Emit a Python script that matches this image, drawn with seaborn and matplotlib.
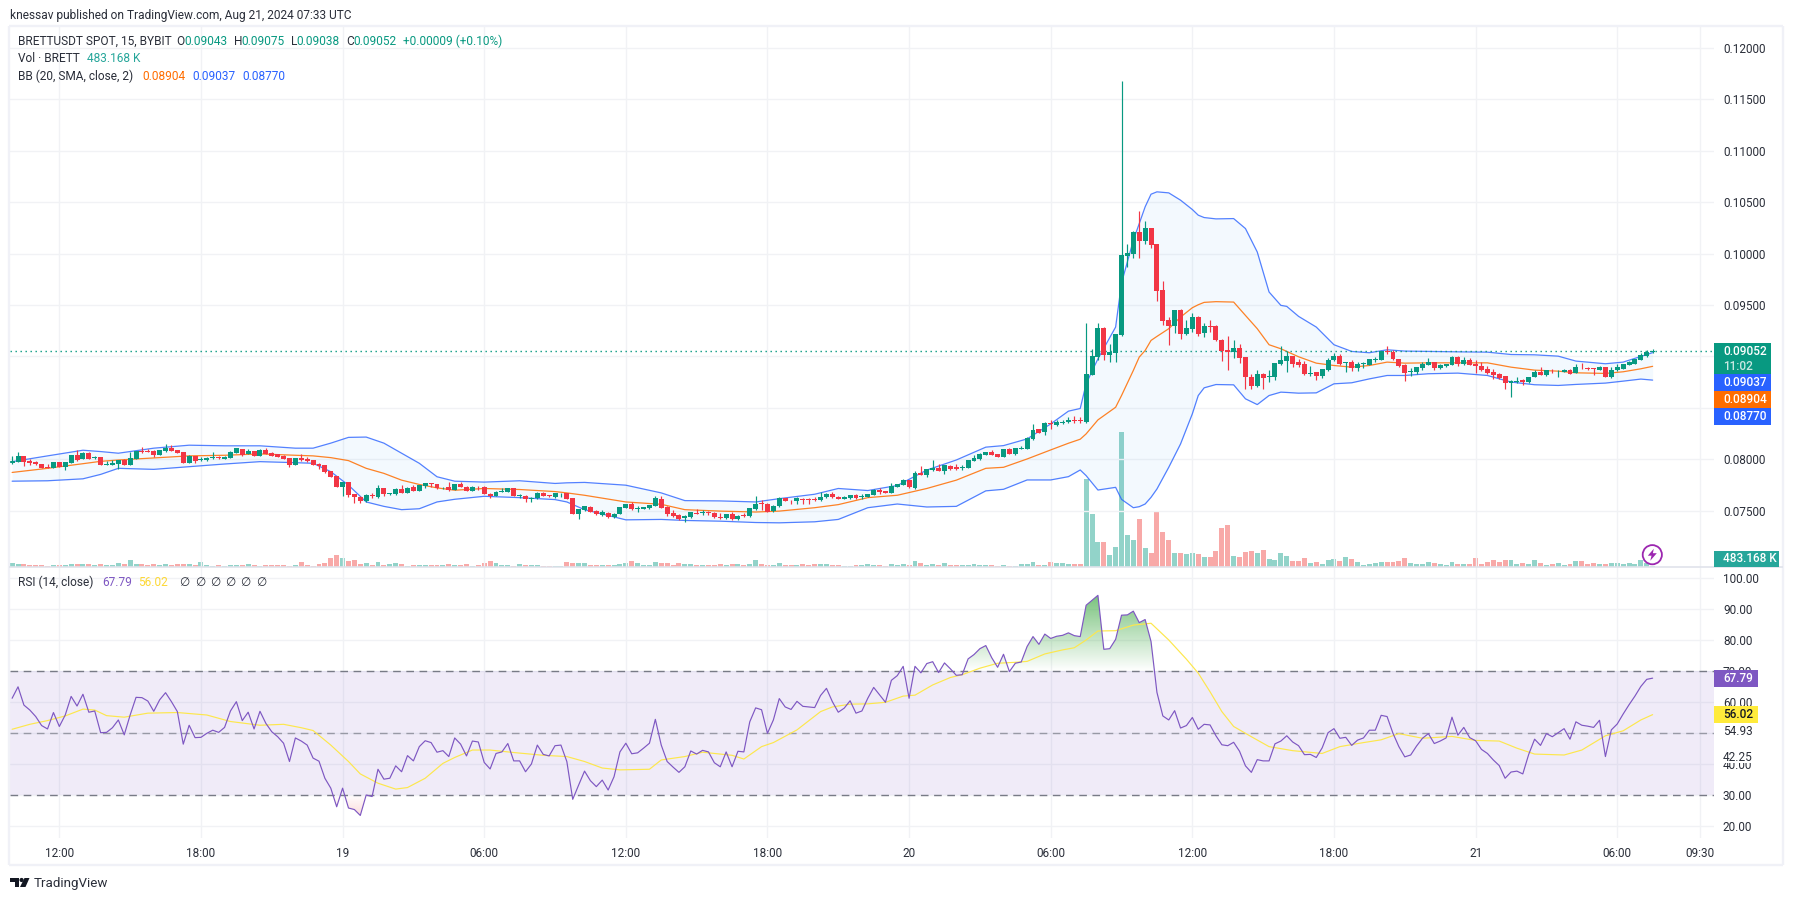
import numpy as np
import pandas as pd
import matplotlib
matplotlib.use("Agg")
import matplotlib.pyplot as plt
from matplotlib.patches import Rectangle, Polygon, Circle
from matplotlib.path import Path
import seaborn as sns

PRICE_UNIT = 1e-5

opens = [
 7961,7977,8033,7987,7974,7954,7922,7918,7971,7925,
 7967,8039,8003,8062,8016,8023,7948,7948,7954,7993,
 7944,8007,8082,8082,8078,8043,8078,8111,8092,8072,
 7964,8033,7997,7993,8013,8023,8007,8016,8065,8098,
 8056,8082,8036,8092,8065,8052,8036,8013,7948,8013,
 8003,7993,7958,7944,7886,7837,7729,7778,7660,7637,
 7591,7653,7630,7716,7663,7663,7709,7673,7732,7693,
 7738,7765,7755,7716,7729,7702,7758,7735,7693,7735,
 7735,7666,7643,7683,7683,7716,7640,7647,7617,7621,
 7676,7650,7630,7660,7673,7621,7464,7503,7539,7500,
 7457,7480,7434,7467,7526,7562,7519,7516,7523,7545,
 7617,7539,7474,7454,7428,7434,7480,7477,7487,7480,
 7441,7428,7464,7415,7457,7444,7513,7575,7568,7493,
 7542,7621,7598,7591,7617,7611,7614,7601,7630,7666,
 7637,7614,7621,7650,7634,7634,7653,7699,7689,7673,
 7732,7751,7794,7722,7863,7846,7895,7915,7886,7938,
 7925,7915,7918,7987,8000,8046,8072,8052,8023,8101,
 8049,8101,8101,8199,8291,8262,8356,8331,8357,8360,
 8383,8383,8364,8818,8994,9273,9013,9032,9205,9977,
 9997,10208,10120,10247,10091,9643,9351,9296,9448,9214,
 9266,9380,9224,9292,9292,9162,9058,9039,9078,8990,
 8805,8708,8828,8799,8799,8922,8955,9000,8942,8922,
 8825,8844,8806,8864,8961,9000,8938,8942,8887,8925,
 8919,8968,8964,9049,9039,8977,8913,8848,8844,8883,
 8916,8942,8883,8906,8916,8997,8922,8961,8922,8909,
 8874,8851,8825,8806,8741,8754,8767,8747,8799,8848,
 8815,8861,8854,8848,8870,8838,8890,8883,8883,8870,
 8893,8796,8864,8880,8916,8925,8964,9000,9043]
closes = [
 7980,8029,7977,7967,7954,7918,7915,7971,7925,7971,
 8043,7997,8062,8003,8023,7944,7958,7964,7993,7948,
 8013,8082,8075,8075,8046,8088,8111,8082,8062,7964,
 8036,7987,8007,8016,8023,8013,8026,8075,8105,8046,
 8085,8036,8095,8056,8036,8026,8003,7948,8013,7993,
 7987,7944,7935,7876,7830,7732,7778,7653,7630,7591,
 7650,7647,7719,7660,7670,7712,7673,7725,7693,7745,
 7765,7755,7716,7725,7699,7755,7732,7693,7735,7729,
 7663,7640,7683,7689,7716,7647,7653,7611,7627,7676,
 7643,7640,7670,7666,7617,7467,7513,7542,7490,7464,
 7483,7434,7470,7532,7562,7513,7526,7532,7555,7621,
 7529,7464,7444,7421,7444,7483,7467,7487,7477,7434,
 7428,7464,7415,7451,7451,7523,7568,7568,7487,7549,
 7621,7595,7591,7621,7608,7604,7608,7637,7666,7630,
 7614,7630,7650,7621,7640,7660,7706,7680,7673,7738,
 7758,7797,7729,7863,7846,7902,7912,7889,7944,7902,
 7905,7922,7993,8016,8052,8072,8046,8026,8098,8056,
 8108,8111,8209,8288,8255,8356,8340,8367,8367,8386,
 8377,8377,8825,9000,9273,9013,9045,9214,9984,10003,
 10208,10120,10247,10081,9636,9344,9296,9448,9214,9273,
 9380,9218,9292,9286,9156,9049,9042,9078,8984,8799,
 8708,8825,8786,8808,8935,8961,9000,8929,8913,8832,
 8841,8809,8874,8968,9003,8922,8945,8887,8922,8932,
 8971,8974,9049,9042,8971,8903,8835,8857,8893,8925,
 8942,8883,8913,8922,8997,8922,8961,8916,8909,8864,
 8838,8815,8793,8738,8763,8763,8751,8802,8844,8819,
 8864,8854,8861,8870,8832,8893,8883,8874,8877,8893,
 8799,8870,8893,8922,8948,8971,9013,9042,9052]
highs = [
 8033,8069,8036,8000,7980,7958,7951,7974,7974,7974,
 8046,8092,8072,8066,8033,8026,7984,7990,7997,8007,
 8072,8085,8118,8098,8095,8092,8150,8141,8095,8075,
 8039,8036,8020,8020,8069,8036,8029,8078,8108,8101,
 8098,8085,8098,8108,8069,8056,8039,8016,8016,8049,
 8020,7997,7964,7948,7889,7840,7781,7781,7663,7640,
 7666,7676,7745,7719,7676,7719,7745,7729,7745,7748,
 7771,7768,7758,7729,7778,7758,7778,7738,7738,7738,
 7738,7670,7696,7719,7719,7719,7666,7650,7630,7679,
 7679,7653,7673,7673,7676,7624,7516,7549,7542,7503,
 7510,7483,7473,7536,7565,7585,7549,7536,7559,7640,
 7647,7542,7510,7467,7460,7487,7519,7503,7500,7483,
 7477,7467,7487,7454,7480,7526,7647,7601,7572,7552,
 7637,7624,7601,7634,7621,7627,7634,7683,7670,7686,
 7647,7640,7653,7666,7660,7663,7709,7716,7693,7765,
 7761,7810,7797,7889,7935,7905,7993,7954,7948,7944,
 7954,7944,7997,8043,8059,8075,8095,8056,8101,8105,
 8111,8131,8212,8347,8294,8359,8386,8386,8380,8416,
 8422,8409,9321,9075,9321,9286,9117,9218,11679,10091,
 10224,10412,10315,10250,10094,9731,9386,9452,9464,9351,
 9419,9396,9321,9351,9302,9166,9195,9162,9117,8994,
 8831,8870,8838,8873,8938,9097,9049,9003,8971,8958,
 8903,8848,8877,8987,9029,9023,8948,8961,8948,8942,
 8974,8994,9052,9097,9058,8980,8929,8887,8896,8942,
 8987,8945,8925,8929,9000,9000,8994,8987,8961,8948,
 8909,8880,8838,8809,8767,8796,8783,8805,8864,8896,
 8867,8877,8864,8874,8874,8922,8938,8896,8887,8909,
 8896,8893,8922,8925,8951,8974,9036,9058,9075]
lows = [
 7954,7977,7938,7944,7948,7912,7912,7915,7922,7895,
 7964,7987,8000,8000,8007,7941,7944,7944,7905,7941,
 7944,8003,8065,8069,8023,8039,8075,8078,8059,7961,
 7961,7964,7980,7987,8000,8000,8003,8013,8062,8036,
 8052,8033,8033,8052,8033,8023,8000,7928,7944,7987,
 7977,7941,7905,7869,7827,7729,7640,7630,7575,7578,
 7588,7624,7627,7647,7650,7653,7670,7670,7689,7689,
 7719,7729,7712,7712,7696,7699,7729,7689,7689,7706,
 7660,7624,7640,7680,7680,7643,7627,7585,7585,7617,
 7640,7634,7627,7634,7614,7464,7418,7500,7487,7461,
 7444,7431,7431,7464,7523,7503,7487,7513,7519,7542,
 7523,7444,7441,7411,7388,7431,7464,7457,7460,7431,
 7424,7424,7411,7411,7438,7441,7510,7506,7483,7490,
 7539,7591,7565,7568,7568,7568,7591,7598,7627,7627,
 7611,7611,7618,7618,7614,7630,7650,7663,7670,7670,
 7729,7748,7719,7712,7843,7830,7889,7886,7859,7899,
 7895,7895,7915,7984,7997,8043,8043,8023,8020,8052,
 8046,8098,8098,8190,8252,8232,8298,8328,8341,8357,
 8351,8351,8354,8815,8961,8961,8945,8945,9198,9870,
 9958,9958,10091,10055,9539,9302,9107,9227,9169,9208,
 9237,9201,9188,9237,9149,8951,8864,8984,8935,8679,
 8682,8705,8688,8747,8773,8919,8848,8896,8893,8815,
 8806,8767,8789,8861,8958,8919,8848,8854,8854,8887,
 8916,8948,8961,9026,8961,8900,8757,8809,8828,8864,
 8913,8864,8874,8900,8913,8906,8919,8913,8835,8861,
 8832,8780,8783,8679,8601,8738,8721,8738,8796,8815,
 8812,8838,8799,8845,8828,8835,8880,8864,8819,8867,
 8796,8793,8861,8877,8913,8922,8961,8997,9038]
volumes_k = [
 1440,1200,1200,840,840,840,480,840,600,840,
 1080,1200,1200,1200,720,1200,720,720,1440,1080,
 2520,1200,960,720,1080,720,1200,720,960,1080,
 1080,720,1800,720,360,600,240,720,720,720,
 1080,720,360,600,720,720,720,480,600,1800,
 720,480,1200,1440,3120,4320,3360,2160,2400,960,
 1440,840,1800,840,1200,1440,1080,360,720,720,
 720,720,720,720,1080,720,720,1080,360,720,
 1440,2160,1440,840,840,360,1080,720,720,720,
 480,360,360,360,1800,1560,1560,1440,840,840,
 840,840,840,1080,1440,2160,1440,840,840,1800,
 1440,1440,840,1440,1200,1200,840,840,840,840,
 1080,840,1200,1080,840,1200,2520,1200,840,840,
 1440,840,840,840,1080,840,1080,1080,1080,840,
 840,360,360,840,840,1080,840,840,360,1080,
 840,1080,840,2160,1440,840,1080,840,1440,840,
 840,840,840,1080,840,840,840,360,720,360,
 360,1080,1080,1800,720,720,1800,1440,1440,1080,
 1080,1080,31680,19080,9000,9000,4320,7200,48600,11520,
 9720,17280,6840,5040,20160,12600,9720,5040,5040,4680,
 5040,4680,3600,3600,5760,14040,15120,3960,3600,5400,
 5760,5040,6120,2880,2520,5040,3960,2160,2160,3240,
 1440,1800,1080,2520,2880,2160,3600,2880,1800,720,
 1080,1440,1800,1800,1800,2160,3240,1440,1080,1080,
 1800,1440,1080,720,1800,1080,1080,1080,3240,1080,
 1800,2520,1800,2520,2520,1080,1440,1080,2520,1440,
 720,1080,1440,720,1080,2160,2160,1080,1440,1080,
 1080,1440,1440,1080,1440,1080,2520,1440,483]

# Bollinger band readings, at selected bars
bb_bars = [0,6,12,15,18,24,30,36,42,48,51,54,57,60,63,66,69,72,75,80,86,92,94,97,
           104,110,114,120,126,130,136,140,145,150,155,160,165,168,172,176,179,181,182,184,
           187,188,190,191,192,193,194,196,198,200,201,202,204,207,209,211,213,215,216,218,
           221,224,227,230,233,236,240,245,250,254,258,262,265,270,273,276,278]
bb_upper = [7977,8033,8088,8075,8059,8108,8137,8131,8131,8108,8108,8157,8213,8216,8157,8059,7961,7830,7787,7778,7791,7765,7771,7775,
            7748,7673,7598,7595,7585,7617,7660,7716,7696,7745,7895,7993,8118,8133,8198,8344,8468,8494,8734,8977,
            9286,9714,10130,10292,10455,10578,10601,10591,10520,10429,10374,10351,10338,10341,10244,10016,9627,9497,9487,9390,
            9286,9114,9049,9036,9065,9052,9049,9045,9042,9019,9016,9003,8955,8929,8945,9000,9037]
bb_basis = [7872,7912,7957,7980,7993,8013,8033,8039,8052,8039,8033,8016,7987,7912,7863,7797,7755,7722,7699,7716,7706,7686,7673,7650,
            7585,7562,7510,7496,7487,7496,7529,7559,7627,7650,7716,7797,7912,7922,8003,8091,8156,8195,8247,8383,
            8506,8620,8864,8994,9058,9156,9195,9270,9383,9474,9503,9526,9533,9529,9399,9270,9114,9075,9049,8997,
            8935,8912,8896,8912,8945,8935,8938,8938,8938,8896,8867,8857,8841,8835,8851,8880,8904]
bb_lower = [7787,7791,7810,7853,7912,7902,7928,7954,7977,7967,7961,7879,7748,7585,7542,7510,7519,7585,7611,7640,7627,7608,7585,7510,
            7411,7415,7405,7398,7385,7382,7392,7415,7529,7565,7536,7542,7693,7708,7799,7799,7831,7896,7841,7701,
            7727,7610,7529,7539,7565,7630,7711,7922,8149,8442,8620,8695,8727,8724,8588,8532,8620,8653,8650,8643,
            8646,8734,8744,8782,8815,8815,8832,8838,8815,8751,8725,8718,8728,8741,8760,8780,8770]

rsi_values = [
 61.3,65,59.1,57.5,55.4,52.5,51.4,56.7,52.2,55.9,
 61.9,58.8,62.6,56.8,57.2,50.2,50.3,51.8,54.3,49.5,
 55.9,61.6,61.5,60.4,57.1,60.8,63.1,60.2,57,46.5,
 52.6,48.6,48.7,50,51,50.3,51.9,57.2,60.2,54.1,
 56.8,51.4,57.1,53.2,50.5,48.9,46.8,40.9,48.5,47.5,
 46.2,42,41,35.5,32.3,26.3,32.3,25.9,25.4,23.5,
 30.1,29.6,38.4,35.2,35.5,39.5,37.6,42.8,41.1,45.7,
 47.6,47,43.9,44.4,42.5,48.5,46.5,42.7,47.5,47.2,
 40.6,38.5,43.5,44,46.7,41.1,41.1,37.6,40.1,46.2,
 43.2,42.7,46,46.2,40.9,28.7,33.3,37.8,34.7,32.8,
 34.9,31.7,36,44,46.8,43.4,43.7,45.2,46.8,54.5,
 46.2,40.9,39.1,37.4,39.2,44.3,43.3,44.5,44,40.5,
 39.2,44,39.2,44.2,44,53.7,58.2,57.6,50,54.3,
 61.2,58.5,57.7,60.3,58.7,58.5,58.3,62.2,64.5,60.2,
 56.8,58.1,60.5,56.5,57.2,61.3,64.8,62.4,60,67.1,
 68.6,71.6,61.3,71.6,69.5,72.5,73.1,69.6,72.7,70.8,
 68.7,68.9,74,75.4,77.3,78.3,74.4,71.3,75.5,69.9,
 72.6,73,78,81.2,78.7,82,80.6,81.3,81.6,82.4,
 81.5,81.2,91.3,92.9,94.5,77.1,77.3,80.3,88.1,88.2,
 89.4,85.7,86.7,79.6,63.2,55.6,54.3,57.3,51.7,52.5,
 55.1,51.3,52.9,52.7,49.2,46.3,46,47.1,44.2,39.5,
 37.4,41.5,41.1,41.1,46.6,47.5,49.2,47.2,46,43.1,
 43.2,42.2,45.3,50.2,51.5,48.4,48.7,46.1,47.8,48.5,
 51,51,55.8,55.4,50,45.7,42.4,43,45.9,48.4,
 49.9,46.7,47.5,48.5,55.2,49.4,51.9,48.6,47.6,44.8,
 43.5,41.4,39.6,35.5,37.5,37.8,36.9,43.2,48.1,46.1,
 49.9,48.9,50.2,51.5,48.1,53.7,52.6,52.3,51.9,54.2,
 42.5,51.1,53,56.2,59.2,62,65.1,67.4,67.79]

rsi_ma_bars = [0,3,6,9,12,14,16,19,23,28,33,37,42,46,49,51,54,57,59,62,65,67,70,73,75,78,81,85,90,94,97,
               100,103,108,110,114,117,122,124,127,129,133,137,139,142,145,148,151,153,156,159,161,164,167,170,172,175,178,180,182,184,187,190,193,196,199,201,
               203,205,207,210,213,217,222,225,229,232,235,239,244,248,252,255,258,263,266,270,273,276,278]
rsi_ma_values = [51.3,52.9,54.1,55.6,57.8,57.5,55.7,55.2,56.5,56.7,55.9,53.8,52.6,52.9,51.8,50.9,46.2,40.9,36.9,33.9,32,32.5,35.5,40.3,42.2,44.6,44.6,43.8,42.9,42.5,40.9,
                 38.8,38.2,38.4,41.4,42.5,43.9,42.9,41.7,45.7,47,51.1,57,58.5,59.4,59.5,60,62,62.3,65.6,68,68.9,71,72.6,72.9,73.2,75.6,76.9,77.6,80.1,83,83.1,84.9,85.5,80.1,73.9,69.4,
                 63.4,57,52.2,48.9,45.7,44.4,43.5,45.7,47,47.9,49.9,48.4,49,47.7,47.5,45.2,43.3,43,44.6,49.2,50.8,54.3,56.02]

price_ticks = [0.12,0.115,0.11,0.105,0.10,0.095,0.09,0.085,0.08,0.075]
price_tick_labels = ["0.12000","0.11500","0.11000","0.10500","0.10000","0.09500","","","0.08000","0.07500"]
rsi_ticks = [100,90,80,70,60,50,40,30,20]
rsi_tick_labels = ["100.00","90.00","80.00","70.00","60.00","","40.00","30.00","20.00"]
time_bars = [8,32,56,80,104,128,152,176,200,224,248,272,286]
time_labels = ["12:00","18:00","19","06:00","12:00","18:00","20","06:00","12:00","18:00","21","06:00","09:30"]

UP, DOWN = "#089981", "#f23645"
VOL_UP, VOL_DOWN = "#92d3c9", "#f8a9a8"
BLUE, ORANGE = "#2962ff", "#ff6d00"
PURPLE, YELLOW = "#7e57c2", "#fdd835"
GRID, FRAME = "#f1f2f5", "#f0f1f7"
INK = "#2a2e39"

sns.set_theme(style="white")
plt.rcParams["font.family"] = ["Roboto", "DejaVu Sans"]
FS = 8.6
TICK_FS = 8.5

W, H = 1794, 901
fig = plt.figure(figsize=(W/100, H/100), dpi=100, facecolor="white")
def rect(l, t, r, b):
    return [l/W, 1-b/H, (r-l)/W, (b-t)/H]

bars = np.arange(len(closes))
O = np.array(opens)*PRICE_UNIT
C = np.array(closes)*PRICE_UNIT
Hi = np.array(highs)*PRICE_UNIT
Lo = np.array(lows)*PRICE_UNIT
rising = C >= O
xlim = (-0.36, 288.4)

# volume pane (bottom layer)
ax_vol = fig.add_axes(rect(10, 26, 1714, 567), zorder=1)
vol_df = pd.DataFrame({"bar": bars, "vol": volumes_k,
                       "dir": np.where(rising, "up", "down")})
sns.barplot(data=vol_df, x="bar", y="vol", hue="dir", native_scale=True, dodge=False,
            palette={"up": VOL_UP, "down": VOL_DOWN}, saturation=1, width=0.84, gap=0,
            errorbar=None, legend=False, ax=ax_vol, linewidth=0)
ax_vol.set_ylim(0, 194760)
ax_vol.set_xlim(*xlim)
ax_vol.set_xticks(time_bars); ax_vol.set_yticks([])
ax_vol.set_xticklabels([]); ax_vol.set_xlabel(""); ax_vol.set_ylabel("")
ax_vol.tick_params(length=0)
ax_vol.grid(False)
for s in ax_vol.spines.values(): s.set_visible(False)

# price pane
ax = fig.add_axes(rect(10, 26, 1714, 567), zorder=2)
ax.patch.set_alpha(0)
ax.set_xlim(*xlim)
ax.set_ylim(0.12 - 519/10282, 0.12 + 22/10282)
ub = np.array(bb_upper)*PRICE_UNIT
mb = np.array(bb_basis)*PRICE_UNIT
lb = np.array(bb_lower)*PRICE_UNIT
ax.fill_between(bb_bars, ub, lb, color="#2196f3", alpha=0.05, lw=0, zorder=1)
sns.lineplot(x=bb_bars, y=ub, color=BLUE, lw=0.9, alpha=.8, errorbar=None, ax=ax, zorder=2)
sns.lineplot(x=bb_bars, y=lb, color=BLUE, lw=0.9, alpha=.8, errorbar=None, ax=ax, zorder=2)
sns.lineplot(x=bb_bars, y=mb, color=ORANGE, lw=0.9, alpha=.85, errorbar=None, ax=ax, zorder=2)
colors = np.where(rising, UP, DOWN)
ax.vlines(bars, Lo, Hi, colors=colors, lw=0.85, zorder=3)
ax.bar(bars, np.maximum(np.abs(C-O), 2e-5), bottom=np.minimum(O, C), width=0.84,
       color=colors, lw=0, zorder=4)
ax.axhline(closes[-1]*PRICE_UNIT, color=UP, lw=1.0, ls=(0, (1, 2.6)), zorder=3)
ax.set_xticks(time_bars)
ax.set_yticks(price_ticks)
ax.set_yticklabels(price_tick_labels, fontsize=TICK_FS, color=INK)
ax.set_xticklabels([])
ax.yaxis.tick_right()
ax.tick_params(axis="both", length=0, pad=6.4)
ax.grid(True, color=GRID, lw=1.0, zorder=0)
ax.set_axisbelow(True)
ax.set_xlabel(""); ax.set_ylabel("")
for s in ax.spines.values(): s.set_visible(False)

# RSI pane
ar = fig.add_axes(rect(10, 567, 1714, 838), zorder=2)
ar.set_xlim(*xlim)
rsi_low, rsi_high = 100-(838-578.3)/3.1, 100+(578.3-567)/3.1
rsi = np.array(rsi_values)
ar.axhspan(30, 70, color=PURPLE, alpha=0.115, lw=0, zorder=1)

def gradient(level, peak, rgb, strength, mask):
    poly = ar.fill_between(bars, rsi, level, where=mask, interpolate=True,
                           facecolor="none", edgecolor="none")
    path = Path.make_compound_path(*poly.get_paths())
    ramp = np.zeros((256, 1, 4))
    ramp[..., :3] = rgb
    ramp[:, 0, 3] = np.linspace(strength, 0, 256)
    im = ar.imshow(ramp, extent=(xlim[0], xlim[1], min(level, peak), max(level, peak)),
                   origin="upper" if peak > level else "lower",
                   aspect="auto", zorder=2, interpolation="bilinear")
    im.set_clip_path(path, transform=ar.transData)

gradient(70, 94.5, (0.298, 0.686, 0.314), 0.75, rsi > 70)
gradient(30, 23.5, (0.937, 0.325, 0.314), 0.2, rsi < 30)

for lvl, al in ((70, 1), (50, .7), (30, 1)):
    ar.axhline(lvl, color="#787b86", lw=1.0, ls=(0, (5.5, 4)), alpha=al, zorder=3)
sns.lineplot(x=rsi_ma_bars, y=rsi_ma_values, color="#fde74c", lw=0.85, errorbar=None, ax=ar, zorder=4)
sns.lineplot(x=bars, y=rsi_values, color=PURPLE, lw=0.85, errorbar=None, ax=ar, zorder=5)
ar.set_ylim(rsi_low, rsi_high)
ar.set_xlim(*xlim)
ar.set_yticks(rsi_ticks)
ar.set_yticklabels(rsi_tick_labels, fontsize=TICK_FS, color=INK)
ar.yaxis.tick_right()
ar.set_xticks(time_bars)
ar.set_xticklabels(time_labels, fontsize=TICK_FS, color=INK)
ar.tick_params(axis="y", length=0, pad=6.4)
ar.tick_params(axis="x", length=0, pad=6.5)
ar.grid(True, color=GRID, lw=1.0, zorder=0)
ar.set_axisbelow(True)
ar.set_xlabel(""); ar.set_ylabel("")
for s in ar.spines.values(): s.set_visible(False)

# overlay: frame, legends, tags, logo (figure pixels)
ov = fig.add_axes([0, 0, 1, 1], zorder=5)
ov.set_xlim(0, W); ov.set_ylim(H, 0); ov.axis("off"); ov.patch.set_alpha(0)

for (x0, y0, x1, y1) in [(9, 26, 1783, 26), (9, 26, 9, 865), (9, 865, 1783, 865),
                          (1783, 26, 1783, 865)]:
    ov.plot([x0, x1], [y0, y1], color=FRAME, lw=1.7, solid_capstyle="butt")
ov.plot([9, 1783], [567, 567], color="#e0e3eb", lw=1.2, solid_capstyle="butt")

def txt(x, y, s, color=INK, fs=FS, **kw):
    ov.text(x, y, s, color=color, fontsize=fs, va="center", ha="left", **kw)

txt(10.5, 15, "knessav published on TradingView.com, Aug 21, 2024 07:33 UTC")
txt(18.4, 41.7, "BRETTUSDT SPOT, 15, BYBIT")
for x, lab, x2, val in [(176, "O", 184.5, "0.09043"), (234, "H", 241, "0.09075"),
                        (291, "L", 296.6, "0.09038"), (346, "C", 353, "0.09052")]:
    txt(x, 41.7, lab); txt(x2, 41.7, val, color=UP)
txt(402.6, 41.7, "+0.00009 (+0.10%)", color=UP)
txt(18.4, 58.7, "Vol · BRETT"); txt(87.3, 58.7, "483.168 K", color="#26a69a")
txt(18.4, 76, "BB (20, SMA, close, 2)")
txt(142.7, 76, "0.08904", color=ORANGE)
txt(192.5, 76, "0.09037", color=BLUE)
txt(241.9, 76, "0.08770", color=BLUE)
txt(18.4, 582.7, "RSI (14, close)")
txt(102, 582.7, "67.79", color=PURPLE)
txt(138.5, 582.7, "56.02", color=YELLOW)
for x in (179, 195, 210, 225, 240, 256):
    txt(x, 582.7, "∅", fs=8.5, family=["DejaVu Sans"])

def tag(top, bot, right, bg, label, fg="white", y=None):
    ov.add_patch(Rectangle((1714, top), right-1714, bot-top, color=bg, lw=0, zorder=3))
    txt(1723, (top+bot)/2 if y is None else y, label, color=fg, zorder=4, fontweight="medium", fs=TICK_FS)

tag(343.3, 374, 1771, UP, "0.09052", y=351.7)
txt(1723, 366, "11:02", color="#c8e8e2", zorder=4, fontweight="medium", fs=TICK_FS)
tag(374, 391, 1771, BLUE, "0.09037")
tag(391, 408, 1771, ORANGE, "0.08904")
tag(408, 425, 1771, BLUE, "0.08770")
tag(551, 566.5, 1779, "#26a69a", "483.168 K")
tag(670, 687, 1758, PURPLE, "67.79")
tag(706, 723, 1758, "#ffeb3b", "56.02", fg="#131722")
txt(1723, 731.7, "54.93", fs=TICK_FS)
ov.add_patch(Rectangle((1722, 751), 35, 12, color="white", lw=0, zorder=2))
txt(1723, 757.7, "42.25", zorder=3, fs=TICK_FS)

# lightning button
cx, cy = 1652.3, 554.7
ov.add_patch(Circle((cx, cy), 9.6, facecolor="white", edgecolor="#9c27b0", lw=1.3, zorder=3))
ov.add_patch(Polygon([(cx+1.5, cy-6), (cx-4.5, cy+1), (cx-0.8, cy+1), (cx-2, cy+6),
                      (cx+4.5, cy-1.5), (cx+0.6, cy-1.5)], color="#9c27b0", lw=0, zorder=4))

# logo
k = "#131722"
ov.add_patch(Polygon([(10, 878), (19, 878), (19, 887), (14.5, 887), (14.5, 882), (10, 882)], color=k, lw=0))
ov.add_patch(Circle((21.6, 880), 2.1, color=k, lw=0))
ov.add_patch(Polygon([(24.5, 878), (29.5, 878), (25.5, 887), (20, 887)], color=k, lw=0))
txt(33.5, 883, "TradingView", fs=9.6)

fig.savefig("out.png", dpi=100, facecolor="white")
